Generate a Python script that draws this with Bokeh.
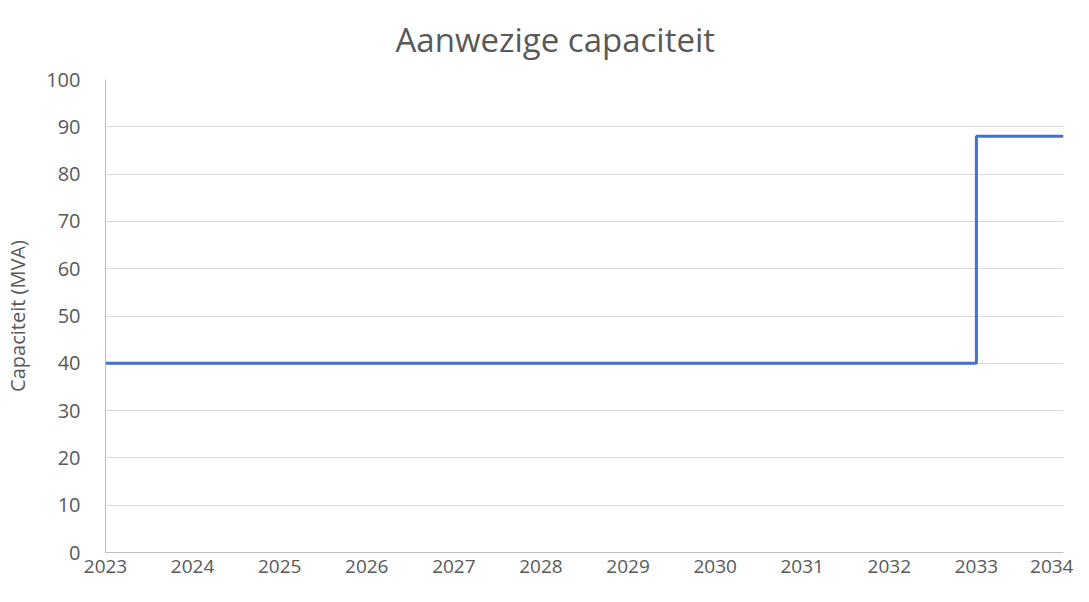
from bokeh.plotting import figure
from bokeh.models import FixedTicker, Range1d
from bokeh.embed import file_html
from bokeh.resources import INLINE

years = [2023, 2024, 2025, 2026, 2027, 2028, 2029, 2030, 2031, 2032, 2033, 2034]
capacity = [40, 40, 40, 40, 40, 40, 40, 40, 40, 40, 88, 88]
y_ticks = [0, 10, 20, 30, 40, 50, 60, 70, 80, 90, 100]

FONT = "Open Sans"
TXT = "#595959"

p = figure(width=1073, height=586, output_backend="svg", toolbar_location=None,
           x_range=Range1d(2023, 2034), y_range=Range1d(0, 100),
           min_border_left=105, min_border_right=10, min_border_top=79, min_border_bottom=34)

p.step(years, capacity, mode="after", line_color="#4472C4", line_width=3)

p.title.text = "Aanwezige capaciteit"
p.title.align = "left"
p.title.vertical_align = "top"
p.title.text_font = FONT
p.title.text_font_size = "33px"
p.title.text_font_style = "normal"
p.title.text_color = TXT
p.title.offset = 290
p.title.standoff = 32

p.outline_line_color = None
p.xgrid.grid_line_color = None
p.ygrid.grid_line_color = "#d9d9d9"
p.ygrid.grid_line_width = 1
p.ygrid.ticker = FixedTicker(ticks=y_ticks)

p.xaxis.ticker = FixedTicker(ticks=years)
p.yaxis.ticker = FixedTicker(ticks=y_ticks)
for ax in (p.xaxis, p.yaxis):
    ax.axis_line_color = "#bfbfbf"
    ax.axis_line_width = 1
    ax.major_tick_line_color = None
    ax.minor_tick_line_color = None
    ax.major_tick_out = 0
    ax.major_tick_in = 0
    ax.major_label_text_font = FONT
    ax.major_label_text_font_size = "20px"
    ax.major_label_text_color = TXT

p.xaxis.major_label_text_font_size = "19px"
p.xaxis.major_label_standoff = 7
p.yaxis.major_label_standoff = 25
p.yaxis.axis_label = "Capaciteit (MVA)"
p.yaxis.axis_label_text_font = FONT
p.yaxis.axis_label_text_font_size = "20px"
p.yaxis.axis_label_text_font_style = "normal"
p.yaxis.axis_label_text_color = TXT
p.yaxis.axis_label_standoff = 12

open("out.html", "w").write(file_html(p, INLINE))
